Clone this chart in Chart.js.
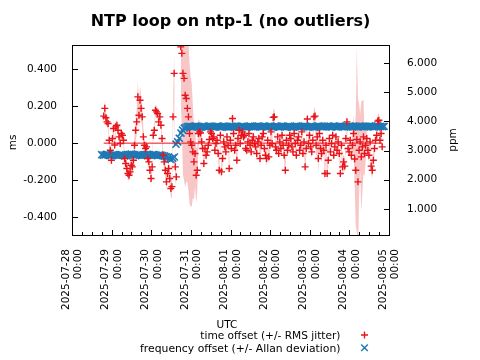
<!DOCTYPE html>
<html>
<head>
<meta charset="utf-8">
<script src="https://cdn.jsdelivr.net/npm/chart.js@4"></script>
<style>
  html, body { margin: 0; padding: 0; background: #fff; }
  #loop { display: block; }
</style>
</head>
<body>
<canvas id="loop" width="480" height="360"></canvas>
<script>
/* NTP loop on ntp-1 — time offset (ms) and frequency offset (ppm) */

// ─── axes / ticks ───────────────────────────────
const DAY0 = Date.UTC(2025, 6, 28);           // 2025-07-28 00:00 UTC, x = days from here
const xTicks   = [0, 1, 2, 3, 4, 5, 6, 7, 8];
const msTicks  = [-0.4, -0.2, 0, 0.2, 0.4];
const ppmTicks = [1, 2, 3, 4, 5, 6];

// ─── time offset, one sample every 40 min from day 0.8 ───
const offsetStart = 0.8, offsetStep = 1 / 36;
const offsetMs = [
  0.146, 0.188, 0.137, 0.115, 0.106, 0.016, -0.038, -0.092, 0.025, 0.079,
  -0.010, 0.088, 0.097, 0.070, 0.034, -0.002, 0.052, 0.043, 0.016, -0.083,
  -0.110, -0.137, -0.164, -0.173, -0.155, -0.119, -0.128, -0.092, -0.011, 0.070,
  0.115, 0.250, 0.151, 0.232, 0.188, 0.142, 0.034, -0.011, -0.029, -0.020,
  -0.083, -0.101, -0.146, -0.191, -0.128, 0.043, 0.070, 0.178, 0.169, 0.160,
  0.115, 0.142, 0.097, 0.025, -0.065, -0.101, -0.146, -0.209, -0.164, -0.137,
  -0.191, -0.245, -0.235, 0.142, 0.377, -0.128, -0.182, null, null, null,
  0.520, 0.485, 0.377, 0.350, 0.259, 0.241, 0.188, 0.142, 0.052, 0.007,
  -0.011, -0.047, -0.101, -0.056, -0.173, -0.146, 0.052, 0.061,
  0.055, 0.007, -0.029, -0.110, -0.029, -0.065, -0.047, -0.011, 0.020, 0.061,
  0.052, 0.025, 0.034, -0.038, -0.002, 0.016, -0.056, -0.146, 0.043, -0.155,
  -0.083, 0.007, -0.020, -0.047, 0.034, -0.011, -0.137, 0.016, -0.029, 0.133,
  0.052, -0.038, -0.011, -0.092, 0.025, 0.070, -0.002, 0.043, 0.061, 0.034,
  0.043, -0.029, -0.038, 0.007, 0.052, -0.011, -0.047, 0.016, 0.034, -0.002,
  -0.020, -0.056, 0.007, 0.025, -0.083, -0.011, 0.034, 0.052, -0.029, -0.065,
  -0.083, 0.016, -0.074, -0.011, 0.061, -0.002, 0.139, 0.142, -0.020, -0.038,
  0.034, -0.056, 0.007, -0.029, 0.043, -0.011, -0.065, -0.146, 0.016, -0.038,
  -0.011, 0.043, 0.025, -0.020, -0.047, 0.052, -0.002, -0.065, 0.016, 0.034,
  -0.038, -0.011, 0.061, -0.056, 0.007, -0.128, -0.029, 0.130, -0.002, 0.043,
  -0.020, -0.047, 0.016, 0.142, 0.146, -0.011, 0.034, -0.083, 0.052, -0.029,
  -0.056, 0.016, -0.038, -0.164, -0.011, -0.164, -0.092, 0.025, -0.047, -0.002,
  0.043, -0.065, -0.020, 0.034, -0.038, 0.007, -0.056, -0.164, -0.011, -0.128,
  -0.101, -0.124, 0.025, 0.115, -0.029, -0.047, 0.016, -0.065, -0.011, 0.052,
  -0.086, -0.146, 0.020, -0.209, -0.038, 0.007, -0.074, -0.020, 0.034, -0.056,
  -0.011, 0.025, -0.038, -0.065, 0.007, -0.124, -0.146, -0.092, -0.029, 0.016,
  0.043, 0.119, 0.124, 0.016, 0.052, -0.020,
];
// RMS jitter for each offset sample (ms)
const jitterMs = [
  0.030, 0.035, 0.025, 0.030, 0.028, 0.030, 0.025, 0.030, 0.028, 0.025,
  0.030, 0.025, 0.028, 0.030, 0.025, 0.030, 0.028, 0.025, 0.030, 0.035,
  0.030, 0.028, 0.035, 0.030, 0.028, 0.040, 0.045, 0.050, 0.055, 0.060,
  0.070, 0.080, 0.080, 0.075, 0.070, 0.060, 0.050, 0.040, 0.035, 0.030,
  0.030, 0.028, 0.030, 0.035, 0.030, 0.028, 0.030, 0.035, 0.030, 0.028,
  0.030, 0.025, 0.030, 0.035, 0.030, 0.040, 0.045, 0.040, 0.035, 0.040,
  0.045, 0.050, 0.060, 0.080, 0.100, 0.070, 0.060, 0, 0, 0,
  0.300, 0.400, 0.550, 0.550, 0.500, 0.450, 0.400, 0.400, 0.380, 0.350,
  0.330, 0.250, 0.200, 0.180, 0.150, 0.120, 0.080, 0.060, 0.050, 0.040,
  0.035, 0.030, 0.030, 0.028, 0.030, 0.025, 0.028, 0.030, 0.025, 0.028,
  0.030, 0.028, 0.025, 0.030, 0.035, 0.040, 0.035, 0.040, 0.035, 0.030,
  0.028, 0.030, 0.025, 0.028, 0.030, 0.035, 0.030, 0.040, 0.030, 0.028,
  0.030, 0.035, 0.028, 0.030, 0.025, 0.028, 0.030, 0.025, 0.028, 0.030,
  0.025, 0.028, 0.030, 0.035, 0.030, 0.028, 0.025, 0.030, 0.028, 0.030,
  0.035, 0.030, 0.040, 0.035, 0.030, 0.028, 0.030, 0.035, 0.040, 0.030,
  0.035, 0.030, 0.028, 0.030, 0.040, 0.045, 0.035, 0.030, 0.028, 0.030,
  0.030, 0.028, 0.035, 0.030, 0.040, 0.045, 0.035, 0.030, 0.028, 0.030,
  0.028, 0.030, 0.025, 0.030, 0.035, 0.030, 0.028, 0.030, 0.025, 0.030,
  0.035, 0.030, 0.040, 0.045, 0.040, 0.045, 0.035, 0.030, 0.028, 0.030,
  0.035, 0.040, 0.050, 0.070, 0.080, 0.080, 0.070, 0.060, 0.045, 0.035,
  0.040, 0.045, 0.050, 0.045, 0.040, 0.030, 0.028, 0.030, 0.025, 0.030,
  0.028, 0.030, 0.035, 0.030, 0.028, 0.035, 0.040, 0.045, 0.040, 0.035,
  0.030, 0.035, 0.030, 0.028, 0.030, 0.040, 0.060, 0.100, 0.150, 0.300,
  0.500, 0.450, 0.250, 0.150, 0.300, 0.250, 0.200, 0.120, 0.080, 0.050,
  0.040, 0.035, 0.030, 0.040, 0.045, 0.040, 0.035, 0.030, 0.028, 0.035,
  0.040, 0.030, 0.028, 0.030,
];

// ─── frequency offset, hourly from day 0.75 ─────
const freqStart = 0.75, freqStep = 1 / 24;
const freqPpm = [
  2.86, 2.84, 2.85, 2.87, 2.85, 2.83, 2.84, 2.86, 2.85, 2.84,
  2.83, 2.85, 2.86, 2.84, 2.82, 2.83, 2.85, 2.87, 2.88, 2.86,
  2.85, 2.84, 2.86, 2.85, 2.83, 2.84, 2.85, 2.86, 2.87, 2.85,
  2.84, 2.86, 2.85, 2.84, 2.83, 2.85, 2.84, 2.83, 2.81, 2.79,
  2.76, 2.72, 2.70, 2.74, 2.78, 3.22, 3.30, 3.42, 3.60, 3.70,
  3.77, 3.80, 3.82, 3.83, 3.82, 3.81, 3.83, 3.84, 3.82, 3.81,
  3.80, 3.82, 3.83, 3.81, 3.82, 3.84, 3.83, 3.82, 3.80, 3.81,
  3.83, 3.82, 3.81, 3.83, 3.84, 3.82, 3.81, 3.80, 3.82, 3.83,
  3.82, 3.84, 3.83, 3.81, 3.82, 3.83, 3.82, 3.80, 3.81, 3.83,
  3.84, 3.82, 3.81, 3.82, 3.83, 3.84, 3.82, 3.81, 3.83, 3.82,
  3.81, 3.83, 3.84, 3.82, 3.80, 3.82, 3.83, 3.81, 3.82, 3.84,
  3.83, 3.82, 3.81, 3.83, 3.82, 3.80, 3.81, 3.83, 3.84, 3.82,
  3.81, 3.82, 3.83, 3.84, 3.82, 3.81, 3.82, 3.83, 3.81, 3.80,
  3.82, 3.84, 3.83, 3.82, 3.81, 3.83, 3.82, 3.84, 3.83, 3.81,
  3.82, 3.83, 3.81, 3.82, 3.84, 3.83, 3.82, 3.81, 3.83, 3.82,
  3.84, 3.83, 3.81, 3.82, 3.83, 3.82, 3.84, 3.83, 3.82, 3.81,
  3.83, 3.82, 3.84, 3.83, 3.82, 3.81, 3.83, 3.84, 3.82, 3.83,
  3.82, 3.83,
];

const TITLE = 'NTP loop on ntp-1 (no outliers)';
const LABELS = ['time offset (+/- RMS jitter)', 'frequency offset (+/- Allan deviation)'];
const RED = '#e8141a', BLUE = '#1f78b4';
const FONT = 'DejaVu Sans';

// ─── build points ───────────────────────────────
const tOff = i => offsetStart + i * offsetStep;
const offPts = offsetMs.map((v, i) => ({ x: tOff(i), y: v }));
const upPts  = offsetMs.map((v, i) => ({ x: tOff(i), y: v === null ? null : v + jitterMs[i] }));
const loPts  = offsetMs.map((v, i) => ({ x: tOff(i), y: v === null ? null : v - jitterMs[i] }));
const freqPts = freqPpm.map((v, i) => ({ x: freqStart + i * freqStep, y: v }));
const zeroPts = [{ x: tOff(0), y: 0 }, { x: tOff(offsetMs.length - 1), y: 0 }];

const pad2 = n => String(n).padStart(2, '0');
function dayLabel(d) {
  const t = new Date(DAY0 + d * 86400000);
  return [`${t.getUTCFullYear()}-${pad2(t.getUTCMonth() + 1)}-${pad2(t.getUTCDate())}`,
          `${pad2(t.getUTCHours())}:${pad2(t.getUTCMinutes())}`];
}
const setTicks = list => scale => { scale.ticks = list.map(v => ({ value: v })); };

// ─── frame, inward ticks, titles, legend ─────────
const decor = {
  id: 'decor',
  afterDraw(chart) {
    const { ctx, chartArea: a, scales } = chart;
    const snap = v => Math.round(v) + 0.5;
    ctx.save();
    ctx.strokeStyle = '#000';
    ctx.lineWidth = 1;
    ctx.strokeRect(a.left + 0.5, a.top + 0.5, a.right - a.left, a.bottom - a.top);
    ctx.beginPath();
    msTicks.forEach(v => {
      const y = snap(scales.y.getPixelForValue(v));
      ctx.moveTo(a.left, y); ctx.lineTo(a.left + 6, y);
    });
    ppmTicks.forEach(v => {
      const y = snap(scales.y2.getPixelForValue(v));
      ctx.moveTo(a.right + 1, y); ctx.lineTo(a.right - 5, y);
    });
    for (let q = 0; q <= 32; q++) {
      const x = snap(scales.x.getPixelForValue(q / 4));
      ctx.moveTo(x, a.bottom + 1); ctx.lineTo(x, a.bottom - (q % 4 ? 3 : 5));
    }
    ctx.stroke();

    ctx.fillStyle = '#000';
    ctx.textAlign = 'center';
    ctx.textBaseline = 'alphabetic';
    ctx.font = `bold 16px "${FONT}"`;
    ctx.fillText(TITLE, (a.left + a.right) / 2, 26);

    ctx.font = `10.5px "${FONT}"`;
    ctx.fillText('UTC', 227, 328);
    ctx.textBaseline = 'middle';
    [[13.5, 142.5, 'ms'], [453, 140, 'ppm']].forEach(([x, y, s]) => {
      ctx.save();
      ctx.translate(x, y);
      ctx.rotate(-Math.PI / 2);
      ctx.fillText(s, 0, 0);
      ctx.restore();
    });

    // legend: right aligned text, marker to the right
    ctx.textAlign = 'right';
    ctx.textBaseline = 'alphabetic';
    ctx.font = `10.6px "${FONT}"`;
    ctx.fillText(LABELS[0], 340.5, 339);
    ctx.font = `10.8px "${FONT}"`;
    ctx.fillText(LABELS[1], 340.5, 352);
    ctx.lineWidth = 1.4;
    ctx.strokeStyle = RED;
    ctx.beginPath();
    ctx.moveTo(361, 335); ctx.lineTo(368, 335);
    ctx.moveTo(364.5, 331.5); ctx.lineTo(364.5, 338.5);
    ctx.stroke();
    ctx.strokeStyle = BLUE;
    ctx.beginPath();
    ctx.moveTo(361.2, 344.5); ctx.lineTo(367.8, 351.1);
    ctx.moveTo(367.8, 344.5); ctx.lineTo(361.2, 351.1);
    ctx.stroke();
    ctx.restore();
  },
};

Chart.defaults.font.family = FONT;
Chart.defaults.color = '#000';

new Chart(document.getElementById('loop'), {
  type: 'line',
  data: {
    datasets: [
      {
        label: LABELS[0], data: offPts, showLine: false,
        pointStyle: 'cross', pointRadius: 3.5, pointBorderWidth: 1.4,
        pointBorderColor: RED, pointBackgroundColor: RED, yAxisID: 'y',
      },
      {
        data: zeroPts, borderColor: RED, borderWidth: 1, pointRadius: 0, yAxisID: 'y',
      },
      {
        label: LABELS[1], data: freqPts, showLine: false,
        pointStyle: 'crossRot', pointRadius: 5, pointBorderWidth: 1.6,
        pointBorderColor: BLUE, pointBackgroundColor: BLUE, yAxisID: 'y2',
      },
      {
        data: upPts, borderWidth: 0, borderColor: 'rgba(0,0,0,0)', pointRadius: 0,
        backgroundColor: 'rgba(228,26,28,0.25)', fill: '+1', yAxisID: 'y',
      },
      {
        data: loPts, borderWidth: 0, borderColor: 'rgba(0,0,0,0)', pointRadius: 0,
        fill: false, yAxisID: 'y',
      },
    ],
  },
  options: {
    responsive: false,
    animation: false,
    events: [],
    devicePixelRatio: 1,
    layout: { padding: { top: 45, left: 0, right: 0, bottom: 0 } },
    plugins: { legend: { display: false }, title: { display: false }, tooltip: { enabled: false } },
    scales: {
      x: {
        type: 'linear', position: 'bottom', min: 0, max: 8,
        grid: { display: false }, border: { display: false },
        afterBuildTicks: setTicks(xTicks),
        afterFit: s => { s.height = 125; },
        ticks: {
          callback: v => dayLabel(v), autoSkip: false,
          minRotation: 90, maxRotation: 90, padding: 6, labelOffset: -6,
          font: { size: 10.5 }, color: '#000',
        },
      },
      y: {
        type: 'linear', position: 'left', min: -0.496, max: 0.53,
        grid: { display: false }, border: { display: false },
        afterBuildTicks: setTicks(msTicks),
        afterFit: s => { s.width = 72; },
        ticks: { callback: v => v.toFixed(3), padding: 7, font: { size: 10.5 }, color: '#000' },
      },
      y2: {
        type: 'linear', position: 'right', min: 0.107, max: 6.618,
        grid: { display: false }, border: { display: false },
        afterBuildTicks: setTicks(ppmTicks),
        afterFit: s => { s.width = 91; },
        ticks: { callback: v => v.toFixed(3), padding: 10, font: { size: 10.5 }, color: '#000' },
      },
    },
  },
  plugins: [decor],
});
</script>
</body>
</html>
